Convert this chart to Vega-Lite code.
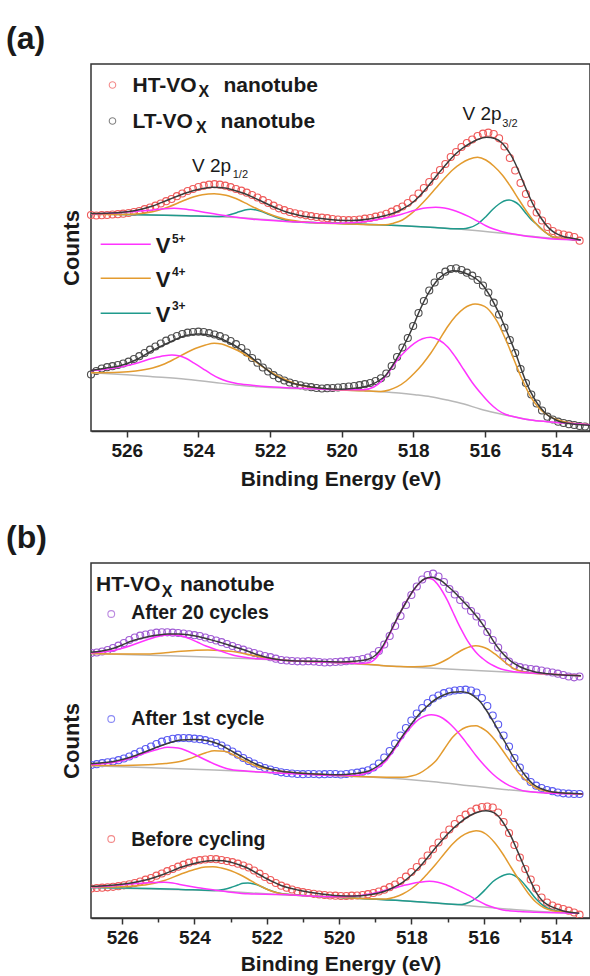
{
"$schema":"https://vega.github.io/schema/vega-lite/v6.json",
"padding":{"left":5,"top":22,"right":0,"bottom":0},
"background":"white",
"spacing":31,
"align":"none",
"config":{
"font":"Liberation Sans",
"view":{"stroke":"#333","strokeWidth":1.5},
"axis":{"grid":false,"labelFont":"Liberation Sans","labelFontSize":19,"labelFontWeight":"bold","labelColor":"#1a1a1a","titleFont":"Liberation Sans","titleFontSize":21,"titleFontWeight":"bold","titleColor":"#1a1a1a","domainColor":"#333","domainWidth":1.5,"tickColor":"#333","tickWidth":1.5,"labelPadding":4,"titlePadding":8},
"axisY":{"titleFontSize":22},
"text":{"font":"Liberation Sans","fontWeight":"bold","align":"left","baseline":"alphabetic","color":"#1a1a1a"},
"title":{"font":"Liberation Sans","fontWeight":"bold","fontSize":32,"color":"#1a1a1a","anchor":"start","frame":"group","baseline":"alphabetic","offset":8}
},
"datasets":{
"ptsA":[
{"e":527.00,"ht":216.0,"lt":56.5},{"e":526.85,"ht":215.5,"lt":60.0},{"e":526.70,"ht":215.8,"lt":62.5},{"e":526.55,"ht":216.0,"lt":63.8},{"e":526.40,"ht":216.5,"lt":64.8},{"e":526.25,"ht":216.8,"lt":66.0},{"e":526.10,"ht":217.3,"lt":67.5},{"e":525.95,"ht":218.0,"lt":69.3},{"e":525.80,"ht":219.0,"lt":72.0},{"e":525.65,"ht":220.0,"lt":74.8},{"e":525.50,"ht":221.8,"lt":78.0},{"e":525.35,"ht":223.5,"lt":81.3},{"e":525.20,"ht":225.3,"lt":84.5},{"e":525.05,"ht":227.5,"lt":87.5},{"e":524.90,"ht":229.8,"lt":90.3},{"e":524.75,"ht":232.0,"lt":92.7},{"e":524.60,"ht":234.8,"lt":95.0},{"e":524.45,"ht":237.5,"lt":97.0},{"e":524.30,"ht":240.0,"lt":98.3},{"e":524.15,"ht":242.0,"lt":99.0},{"e":524.00,"ht":244.0,"lt":99.3},{"e":523.85,"ht":245.3,"lt":99.0},{"e":523.70,"ht":246.3,"lt":97.8},{"e":523.55,"ht":246.8,"lt":96.5},{"e":523.40,"ht":246.3,"lt":94.8},{"e":523.25,"ht":245.3,"lt":92.7},{"e":523.10,"ht":243.8,"lt":90.0},{"e":522.95,"ht":242.0,"lt":86.8},{"e":522.80,"ht":240.3,"lt":83.0},{"e":522.65,"ht":238.3,"lt":78.5},{"e":522.50,"ht":236.0,"lt":73.0},{"e":522.35,"ht":233.5,"lt":68.3},{"e":522.20,"ht":230.8,"lt":63.5},{"e":522.05,"ht":228.0,"lt":59.5},{"e":521.90,"ht":225.3,"lt":55.8},{"e":521.75,"ht":222.7,"lt":52.7},{"e":521.60,"ht":220.8,"lt":50.5},{"e":521.45,"ht":219.0,"lt":48.5},{"e":521.30,"ht":217.7,"lt":47.0},{"e":521.15,"ht":216.7,"lt":45.7},{"e":521.00,"ht":215.7,"lt":44.5},{"e":520.85,"ht":214.8,"lt":43.8},{"e":520.70,"ht":214.0,"lt":43.0},{"e":520.55,"ht":213.3,"lt":42.5},{"e":520.40,"ht":212.8,"lt":42.8},{"e":520.25,"ht":212.0,"lt":43.0},{"e":520.10,"ht":211.5,"lt":43.5},{"e":519.95,"ht":211.0,"lt":44.0},{"e":519.80,"ht":210.8,"lt":44.5},{"e":519.65,"ht":211.0,"lt":45.0},{"e":519.50,"ht":211.5,"lt":45.8},{"e":519.35,"ht":212.3,"lt":46.8},{"e":519.20,"ht":213.0,"lt":48.0},{"e":519.05,"ht":214.3,"lt":50.0},{"e":518.90,"ht":215.5,"lt":52.7},{"e":518.75,"ht":217.2,"lt":57.5},{"e":518.60,"ht":219.3,"lt":65.0},{"e":518.45,"ht":221.8,"lt":74.0},{"e":518.30,"ht":224.5,"lt":83.5},{"e":518.15,"ht":228.0,"lt":93.0},{"e":518.00,"ht":232.5,"lt":105.0},{"e":517.85,"ht":237.5,"lt":118.0},{"e":517.70,"ht":243.0,"lt":130.0},{"e":517.55,"ht":249.0,"lt":140.5},{"e":517.40,"ht":255.0,"lt":148.5},{"e":517.25,"ht":261.0,"lt":155.0},{"e":517.10,"ht":267.0,"lt":159.3},{"e":516.95,"ht":274.0,"lt":162.0},{"e":516.80,"ht":279.0,"lt":162.7},{"e":516.65,"ht":284.0,"lt":161.0},{"e":516.50,"ht":288.0,"lt":158.3},{"e":516.35,"ht":291.5,"lt":155.3},{"e":516.20,"ht":295.0,"lt":151.0},{"e":516.05,"ht":297.3,"lt":145.5},{"e":515.90,"ht":298.3,"lt":138.5},{"e":515.75,"ht":297.0,"lt":128.3},{"e":515.60,"ht":292.7,"lt":116.5},{"e":515.45,"ht":284.5,"lt":103.5},{"e":515.30,"ht":273.0,"lt":91.0},{"e":515.15,"ht":260.5,"lt":78.0},{"e":515.00,"ht":248.0,"lt":62.0},{"e":514.85,"ht":237.0,"lt":48.0},{"e":514.70,"ht":227.5,"lt":36.5},{"e":514.55,"ht":218.5,"lt":27.5},{"e":514.40,"ht":210.5,"lt":20.5},{"e":514.25,"ht":204.0,"lt":14.3},{"e":514.10,"ht":200.0,"lt":11.5},{"e":513.95,"ht":197.5,"lt":9.3},{"e":513.80,"ht":196.5,"lt":8.0},{"e":513.65,"ht":195.3,"lt":6.8},{"e":513.50,"ht":194.0,"lt":6.0},{"e":513.35,"ht":190.3,"lt":5.0},{"e":513.20,"lt":4.5}
],
"ptsB":[
{"e":527.00,"c20":264.7,"c1":152.3,"bc":29.0},{"e":526.85,"c20":265.0,"c1":153.0,"bc":29.5},{"e":526.70,"c20":265.5,"c1":153.8,"bc":30.0},{"e":526.55,"c20":266.5,"c1":154.8,"bc":30.3},{"e":526.40,"c20":268.0,"c1":155.7,"bc":30.7},{"e":526.25,"c20":270.0,"c1":156.5,"bc":31.2},{"e":526.10,"c20":272.3,"c1":157.8,"bc":31.8},{"e":525.95,"c20":275.0,"c1":159.5,"bc":32.7},{"e":525.80,"c20":278.0,"c1":161.5,"bc":33.7},{"e":525.65,"c20":280.5,"c1":163.8,"bc":35.0},{"e":525.50,"c20":282.3,"c1":166.5,"bc":36.5},{"e":525.35,"c20":283.5,"c1":169.0,"bc":38.3},{"e":525.20,"c20":284.5,"c1":171.5,"bc":40.0},{"e":525.05,"c20":285.3,"c1":174.0,"bc":42.3},{"e":524.90,"c20":285.7,"c1":176.3,"bc":44.5},{"e":524.75,"c20":285.7,"c1":178.0,"bc":46.8},{"e":524.60,"c20":285.3,"c1":179.2,"bc":49.0},{"e":524.45,"c20":285.0,"c1":179.8,"bc":51.3},{"e":524.30,"c20":284.5,"c1":180.0,"bc":53.3},{"e":524.15,"c20":283.7,"c1":179.8,"bc":55.3},{"e":524.00,"c20":282.8,"c1":179.3,"bc":56.8},{"e":523.85,"c20":282.0,"c1":178.8,"bc":57.8},{"e":523.70,"c20":280.5,"c1":177.8,"bc":58.5},{"e":523.55,"c20":279.0,"c1":176.5,"bc":59.0},{"e":523.40,"c20":277.5,"c1":175.0,"bc":58.8},{"e":523.25,"c20":275.8,"c1":172.5,"bc":58.0},{"e":523.10,"c20":274.0,"c1":169.5,"bc":57.0},{"e":522.95,"c20":272.0,"c1":166.5,"bc":55.8},{"e":522.80,"c20":270.0,"c1":163.3,"bc":54.3},{"e":522.65,"c20":268.3,"c1":160.0,"bc":52.5},{"e":522.50,"c20":266.5,"c1":157.0,"bc":50.5},{"e":522.35,"c20":265.0,"c1":154.5,"bc":47.5},{"e":522.20,"c20":263.5,"c1":152.0,"bc":44.3},{"e":522.05,"c20":262.0,"c1":150.0,"bc":41.0},{"e":521.90,"c20":260.8,"c1":148.5,"bc":38.0},{"e":521.75,"c20":259.3,"c1":147.0,"bc":35.0},{"e":521.60,"c20":258.0,"c1":145.7,"bc":32.3},{"e":521.45,"c20":257.5,"c1":145.0,"bc":30.3},{"e":521.30,"c20":257.0,"c1":144.5,"bc":28.5},{"e":521.15,"c20":256.7,"c1":144.0,"bc":26.8},{"e":521.00,"c20":256.5,"c1":143.8,"bc":25.8},{"e":520.85,"c20":256.8,"c1":144.0,"bc":25.0},{"e":520.70,"c20":256.5,"c1":144.0,"bc":24.2},{"e":520.55,"c20":256.0,"c1":143.7,"bc":23.5},{"e":520.40,"c20":255.5,"c1":143.8,"bc":23.0},{"e":520.25,"c20":255.7,"c1":144.0,"bc":22.5},{"e":520.10,"c20":256.0,"c1":144.0,"bc":22.3},{"e":519.95,"c20":256.3,"c1":143.5,"bc":22.0},{"e":519.80,"c20":256.8,"c1":144.0,"bc":22.0},{"e":519.65,"c20":257.3,"c1":144.7,"bc":22.3},{"e":519.50,"c20":258.0,"c1":145.3,"bc":22.5},{"e":519.35,"c20":259.0,"c1":146.3,"bc":23.0},{"e":519.20,"c20":260.5,"c1":147.7,"bc":23.8},{"e":519.05,"c20":263.0,"c1":150.5,"bc":25.0},{"e":518.90,"c20":267.0,"c1":154.5,"bc":26.5},{"e":518.75,"c20":273.5,"c1":160.5,"bc":28.3},{"e":518.60,"c20":282.0,"c1":167.0,"bc":30.8},{"e":518.45,"c20":292.0,"c1":174.5,"bc":33.5},{"e":518.30,"c20":302.0,"c1":182.5,"bc":37.0},{"e":518.15,"c20":313.0,"c1":190.0,"bc":41.3},{"e":518.00,"c20":323.0,"c1":197.5,"bc":46.0},{"e":517.85,"c20":331.5,"c1":204.5,"bc":51.0},{"e":517.70,"c20":338.5,"c1":210.0,"bc":56.5},{"e":517.55,"c20":343.0,"c1":215.0,"bc":62.5},{"e":517.40,"c20":344.3,"c1":219.5,"bc":68.8},{"e":517.25,"c20":341.5,"c1":222.5,"bc":75.5},{"e":517.10,"c20":336.0,"c1":224.8,"bc":82.5},{"e":516.95,"c20":329.0,"c1":226.5,"bc":88.5},{"e":516.80,"c20":323.5,"c1":227.5,"bc":94.0},{"e":516.65,"c20":318.0,"c1":228.0,"bc":99.0},{"e":516.50,"c20":312.5,"c1":228.3,"bc":103.3},{"e":516.35,"c20":307.0,"c1":227.5,"bc":106.5},{"e":516.20,"c20":301.5,"c1":225.5,"bc":109.3},{"e":516.05,"c20":294.8,"c1":220.0,"bc":111.0},{"e":515.90,"c20":286.0,"c1":212.0,"bc":111.5},{"e":515.75,"c20":278.0,"c1":202.5,"bc":110.5},{"e":515.60,"c20":270.5,"c1":193.5,"bc":105.5},{"e":515.45,"c20":262.5,"c1":182.5,"bc":96.0},{"e":515.30,"c20":256.5,"c1":171.5,"bc":85.0},{"e":515.15,"c20":252.5,"c1":160.0,"bc":73.0},{"e":515.00,"c20":250.8,"c1":150.5,"bc":60.5},{"e":514.85,"c20":249.7,"c1":141.5,"bc":49.0},{"e":514.70,"c20":249.0,"c1":136.0,"bc":38.5},{"e":514.55,"c20":248.3,"c1":132.3,"bc":29.5},{"e":514.40,"c20":247.5,"c1":130.0,"bc":20.5},{"e":514.25,"c20":246.5,"c1":128.0,"bc":15.5},{"e":514.10,"c20":245.5,"c1":126.8,"bc":12.5},{"e":513.95,"c20":244.3,"c1":125.5,"bc":10.3},{"e":513.80,"c20":243.0,"c1":124.7,"bc":9.0},{"e":513.65,"c20":241.5,"c1":124.3,"bc":7.3},{"e":513.50,"c20":240.7,"c1":124.0,"bc":5.5},{"e":513.35,"c20":241.5,"c1":124.0,"bc":3.3}
],
"linA":[
{"s":"HT","c":"bg","e":527,"y":217},{"s":"HT","c":"bg","e":525.3,"y":216},{"s":"HT","c":"bg","e":523.42,"y":214.3},{"s":"HT","c":"bg","e":522.5,"y":212.5},{"s":"HT","c":"bg","e":521.56,"y":209.8},{"s":"HT","c":"bg","e":520.6,"y":208.2},{"s":"HT","c":"bg","e":520,"y":207.5},{"s":"HT","c":"bg","e":519.2,"y":206.5},{"s":"HT","c":"bg","e":518.3,"y":205.3},{"s":"HT","c":"bg","e":517.4,"y":203.5},{"s":"HT","c":"bg","e":516.44,"y":201},{"s":"HT","c":"bg","e":515.5,"y":197.8},{"s":"HT","c":"bg","e":514.58,"y":194.3},{"s":"HT","c":"bg","e":513.9,"y":192.2},{"s":"HT","c":"bg","e":513.32,"y":191},
{"s":"LT","c":"bg","e":527,"y":58.3},{"s":"LT","c":"bg","e":526,"y":56.2},{"s":"LT","c":"bg","e":525.28,"y":54.3},{"s":"LT","c":"bg","e":524.35,"y":51.7},{"s":"LT","c":"bg","e":523.6,"y":48.8},{"s":"LT","c":"bg","e":522.96,"y":46},{"s":"LT","c":"bg","e":522.2,"y":44},{"s":"LT","c":"bg","e":521.56,"y":42.7},{"s":"LT","c":"bg","e":520.8,"y":41.8},{"s":"LT","c":"bg","e":520.02,"y":41},{"s":"LT","c":"bg","e":519.4,"y":40.3},{"s":"LT","c":"bg","e":518.9,"y":39.3},{"s":"LT","c":"bg","e":518.4,"y":38},{"s":"LT","c":"bg","e":517.95,"y":36.3},{"s":"LT","c":"bg","e":517.51,"y":34.3},{"s":"LT","c":"bg","e":517.05,"y":31},{"s":"LT","c":"bg","e":516.58,"y":27},{"s":"LT","c":"bg","e":516.11,"y":21.7},{"s":"LT","c":"bg","e":515.65,"y":17.8},{"s":"LT","c":"bg","e":515.18,"y":14.3},{"s":"LT","c":"bg","e":514.72,"y":11},{"s":"LT","c":"bg","e":514.25,"y":9.3},{"s":"LT","c":"bg","e":513.78,"y":8},{"s":"LT","c":"bg","e":513.32,"y":7},{"s":"LT","c":"bg","e":513.04,"y":6.3},
{"s":"HT","c":"V3","e":527,"y":217},{"s":"HT","c":"V3","e":525.3,"y":216},{"s":"HT","c":"V3","e":524.35,"y":215.3},{"s":"HT","c":"V3","e":523.42,"y":214.5},{"s":"HT","c":"V3","e":523.2,"y":215.5},{"s":"HT","c":"V3","e":523.05,"y":217},{"s":"HT","c":"V3","e":522.86,"y":219.2},{"s":"HT","c":"V3","e":522.7,"y":221},{"s":"HT","c":"V3","e":522.54,"y":221.7},{"s":"HT","c":"V3","e":522.38,"y":221},{"s":"HT","c":"V3","e":522.21,"y":219.3},{"s":"HT","c":"V3","e":522.02,"y":216.5},{"s":"HT","c":"V3","e":521.75,"y":212.7},{"s":"HT","c":"V3","e":521.56,"y":210.8},{"s":"HT","c":"V3","e":521.37,"y":209.6},{"s":"HT","c":"V3","e":520.6,"y":208.2},{"s":"HT","c":"V3","e":520,"y":207.5},{"s":"HT","c":"V3","e":519.2,"y":206.5},{"s":"HT","c":"V3","e":518.3,"y":205.3},{"s":"HT","c":"V3","e":517.4,"y":203.5},{"s":"HT","c":"V3","e":516.9,"y":202.3},{"s":"HT","c":"V3","e":516.6,"y":202.2},{"s":"HT","c":"V3","e":516.44,"y":203.2},{"s":"HT","c":"V3","e":516.2,"y":207},{"s":"HT","c":"V3","e":515.97,"y":214.3},{"s":"HT","c":"V3","e":515.78,"y":221.5},{"s":"HT","c":"V3","e":515.6,"y":227},{"s":"HT","c":"V3","e":515.46,"y":230},{"s":"HT","c":"V3","e":515.32,"y":231},{"s":"HT","c":"V3","e":515.18,"y":229.5},{"s":"HT","c":"V3","e":515.04,"y":226},{"s":"HT","c":"V3","e":514.88,"y":219},{"s":"HT","c":"V3","e":514.73,"y":212.5},{"s":"HT","c":"V3","e":514.58,"y":207.7},{"s":"HT","c":"V3","e":514.35,"y":200},{"s":"HT","c":"V3","e":514.11,"y":194.3},{"s":"HT","c":"V3","e":513.8,"y":192},{"s":"HT","c":"V3","e":513.32,"y":191},
{"s":"HT","c":"V4","e":527,"y":216.8},{"s":"HT","c":"V4","e":526.2,"y":216.5},{"s":"HT","c":"V4","e":525.75,"y":217},{"s":"HT","c":"V4","e":525.28,"y":219.3},{"s":"HT","c":"V4","e":525.05,"y":221.5},{"s":"HT","c":"V4","e":524.82,"y":224.3},{"s":"HT","c":"V4","e":524.58,"y":227.8},{"s":"HT","c":"V4","e":524.35,"y":231.3},{"s":"HT","c":"V4","e":524.12,"y":234.2},{"s":"HT","c":"V4","e":523.89,"y":236.3},{"s":"HT","c":"V4","e":523.56,"y":237.3},{"s":"HT","c":"V4","e":523.23,"y":235.7},{"s":"HT","c":"V4","e":523.05,"y":233.7},{"s":"HT","c":"V4","e":522.86,"y":231},{"s":"HT","c":"V4","e":522.68,"y":227.8},{"s":"HT","c":"V4","e":522.49,"y":224.3},{"s":"HT","c":"V4","e":522.25,"y":220.5},{"s":"HT","c":"V4","e":522.02,"y":217},{"s":"HT","c":"V4","e":521.78,"y":214},{"s":"HT","c":"V4","e":521.56,"y":211.7},{"s":"HT","c":"V4","e":521.09,"y":209.3},{"s":"HT","c":"V4","e":520.6,"y":208},{"s":"HT","c":"V4","e":520,"y":207.3},{"s":"HT","c":"V4","e":519.23,"y":206.3},{"s":"HT","c":"V4","e":518.77,"y":206.2},{"s":"HT","c":"V4","e":518.55,"y":207.8},{"s":"HT","c":"V4","e":518.3,"y":211},{"s":"HT","c":"V4","e":518.07,"y":216.8},{"s":"HT","c":"V4","e":517.84,"y":224.3},{"s":"HT","c":"V4","e":517.6,"y":233.3},{"s":"HT","c":"V4","e":517.37,"y":242.7},{"s":"HT","c":"V4","e":517.13,"y":252.5},{"s":"HT","c":"V4","e":516.9,"y":261},{"s":"HT","c":"V4","e":516.67,"y":267.3},{"s":"HT","c":"V4","e":516.44,"y":271.7},{"s":"HT","c":"V4","e":516.2,"y":273.7},{"s":"HT","c":"V4","e":515.97,"y":271},{"s":"HT","c":"V4","e":515.75,"y":265},{"s":"HT","c":"V4","e":515.51,"y":256},{"s":"HT","c":"V4","e":515.27,"y":244},{"s":"HT","c":"V4","e":515.04,"y":231},{"s":"HT","c":"V4","e":514.81,"y":218.5},{"s":"HT","c":"V4","e":514.58,"y":207.7},{"s":"HT","c":"V4","e":514.35,"y":199.8},{"s":"HT","c":"V4","e":514.11,"y":194.3},{"s":"HT","c":"V4","e":513.87,"y":192.5},{"s":"HT","c":"V4","e":513.64,"y":191.7},{"s":"HT","c":"V4","e":513.32,"y":191},
{"s":"LT","c":"V4","e":527,"y":58.3},{"s":"LT","c":"V4","e":526.21,"y":58.8},{"s":"LT","c":"V4","e":525.75,"y":60},{"s":"LT","c":"V4","e":525.28,"y":63},{"s":"LT","c":"V4","e":524.95,"y":67},{"s":"LT","c":"V4","e":524.63,"y":72.7},{"s":"LT","c":"V4","e":524.35,"y":78},{"s":"LT","c":"V4","e":524.07,"y":82.7},{"s":"LT","c":"V4","e":523.8,"y":86},{"s":"LT","c":"V4","e":523.56,"y":87.7},{"s":"LT","c":"V4","e":523.35,"y":87},{"s":"LT","c":"V4","e":523.14,"y":84.3},{"s":"LT","c":"V4","e":522.9,"y":80.5},{"s":"LT","c":"V4","e":522.68,"y":76},{"s":"LT","c":"V4","e":522.45,"y":70.5},{"s":"LT","c":"V4","e":522.21,"y":64.3},{"s":"LT","c":"V4","e":521.98,"y":59},{"s":"LT","c":"V4","e":521.75,"y":54.3},{"s":"LT","c":"V4","e":521.5,"y":50.3},{"s":"LT","c":"V4","e":521.28,"y":47},{"s":"LT","c":"V4","e":520.63,"y":42.7},{"s":"LT","c":"V4","e":520.02,"y":41},{"s":"LT","c":"V4","e":519.4,"y":40.3},{"s":"LT","c":"V4","e":518.9,"y":39.5},{"s":"LT","c":"V4","e":518.67,"y":41},{"s":"LT","c":"V4","e":518.44,"y":44.3},{"s":"LT","c":"V4","e":518.2,"y":50},{"s":"LT","c":"V4","e":517.97,"y":57.7},{"s":"LT","c":"V4","e":517.74,"y":66.8},{"s":"LT","c":"V4","e":517.51,"y":77.7},{"s":"LT","c":"V4","e":517.28,"y":90.5},{"s":"LT","c":"V4","e":517.04,"y":104.3},{"s":"LT","c":"V4","e":516.81,"y":115},{"s":"LT","c":"V4","e":516.58,"y":122.7},{"s":"LT","c":"V4","e":516.42,"y":125.8},{"s":"LT","c":"V4","e":516.27,"y":127},{"s":"LT","c":"V4","e":516.1,"y":126},{"s":"LT","c":"V4","e":515.93,"y":122.7},{"s":"LT","c":"V4","e":515.79,"y":117},{"s":"LT","c":"V4","e":515.65,"y":109.3},{"s":"LT","c":"V4","e":515.51,"y":99},{"s":"LT","c":"V4","e":515.37,"y":87.7},{"s":"LT","c":"V4","e":515.18,"y":71},{"s":"LT","c":"V4","e":514.99,"y":54.3},{"s":"LT","c":"V4","e":514.85,"y":43.5},{"s":"LT","c":"V4","e":514.72,"y":34.3},{"s":"LT","c":"V4","e":514.5,"y":23.5},{"s":"LT","c":"V4","e":514.25,"y":16},{"s":"LT","c":"V4","e":514,"y":11.5},{"s":"LT","c":"V4","e":513.78,"y":9.3},{"s":"LT","c":"V4","e":513.32,"y":7},{"s":"LT","c":"V4","e":513.04,"y":6.3},
{"s":"HT","c":"V5","e":527,"y":217.2},{"s":"HT","c":"V5","e":526.6,"y":217.6},{"s":"HT","c":"V5","e":526.21,"y":218.3},{"s":"HT","c":"V5","e":525.75,"y":219.6},{"s":"HT","c":"V5","e":525.28,"y":221},{"s":"HT","c":"V5","e":524.95,"y":222.2},{"s":"HT","c":"V5","e":524.68,"y":222.7},{"s":"HT","c":"V5","e":524.4,"y":222},{"s":"HT","c":"V5","e":524.07,"y":220.3},{"s":"HT","c":"V5","e":523.75,"y":218.2},{"s":"HT","c":"V5","e":523.42,"y":216.2},{"s":"HT","c":"V5","e":523,"y":214},{"s":"HT","c":"V5","e":522.49,"y":211.8},{"s":"HT","c":"V5","e":521.56,"y":209.5},{"s":"HT","c":"V5","e":520.6,"y":208.3},{"s":"HT","c":"V5","e":520,"y":207.7},{"s":"HT","c":"V5","e":519.7,"y":208.3},{"s":"HT","c":"V5","e":519.23,"y":210},{"s":"HT","c":"V5","e":518.77,"y":213},{"s":"HT","c":"V5","e":518.3,"y":217},{"s":"HT","c":"V5","e":518.05,"y":219.8},{"s":"HT","c":"V5","e":517.84,"y":221.8},{"s":"HT","c":"V5","e":517.6,"y":223.2},{"s":"HT","c":"V5","e":517.37,"y":223.7},{"s":"HT","c":"V5","e":517.13,"y":223},{"s":"HT","c":"V5","e":516.9,"y":221},{"s":"HT","c":"V5","e":516.67,"y":218},{"s":"HT","c":"V5","e":516.44,"y":214.3},{"s":"HT","c":"V5","e":516.2,"y":209.8},{"s":"HT","c":"V5","e":515.97,"y":205.3},{"s":"HT","c":"V5","e":515.75,"y":202},{"s":"HT","c":"V5","e":515.51,"y":199.3},{"s":"HT","c":"V5","e":515.04,"y":196},{"s":"HT","c":"V5","e":514.58,"y":193.7},{"s":"HT","c":"V5","e":514.11,"y":192},{"s":"HT","c":"V5","e":513.32,"y":191},
{"s":"LT","c":"V5","e":527,"y":60.3},{"s":"LT","c":"V5","e":526.6,"y":61.8},{"s":"LT","c":"V5","e":526.21,"y":63.7},{"s":"LT","c":"V5","e":525.75,"y":67.5},{"s":"LT","c":"V5","e":525.28,"y":72.7},{"s":"LT","c":"V5","e":524.95,"y":75.3},{"s":"LT","c":"V5","e":524.74,"y":76},{"s":"LT","c":"V5","e":524.55,"y":75.2},{"s":"LT","c":"V5","e":524.35,"y":72.7},{"s":"LT","c":"V5","e":524.12,"y":67.8},{"s":"LT","c":"V5","e":523.89,"y":62.7},{"s":"LT","c":"V5","e":523.65,"y":57.2},{"s":"LT","c":"V5","e":523.42,"y":52.7},{"s":"LT","c":"V5","e":523.2,"y":49.8},{"s":"LT","c":"V5","e":522.96,"y":47.7},{"s":"LT","c":"V5","e":522.5,"y":45.8},{"s":"LT","c":"V5","e":522.02,"y":44.3},{"s":"LT","c":"V5","e":521.09,"y":42.7},{"s":"LT","c":"V5","e":520.02,"y":41.2},{"s":"LT","c":"V5","e":519.4,"y":41.2},{"s":"LT","c":"V5","e":519.1,"y":44},{"s":"LT","c":"V5","e":518.9,"y":49.3},{"s":"LT","c":"V5","e":518.67,"y":59.5},{"s":"LT","c":"V5","e":518.44,"y":71},{"s":"LT","c":"V5","e":518.2,"y":80.5},{"s":"LT","c":"V5","e":517.97,"y":87.7},{"s":"LT","c":"V5","e":517.74,"y":92.2},{"s":"LT","c":"V5","e":517.51,"y":93.7},{"s":"LT","c":"V5","e":517.28,"y":91},{"s":"LT","c":"V5","e":517.04,"y":84.3},{"s":"LT","c":"V5","e":516.81,"y":73.5},{"s":"LT","c":"V5","e":516.58,"y":61},{"s":"LT","c":"V5","e":516.35,"y":48.5},{"s":"LT","c":"V5","e":516.11,"y":37.7},{"s":"LT","c":"V5","e":515.88,"y":28.5},{"s":"LT","c":"V5","e":515.64,"y":21},{"s":"LT","c":"V5","e":515.41,"y":16.5},{"s":"LT","c":"V5","e":515.18,"y":14.3},{"s":"LT","c":"V5","e":514.72,"y":11},{"s":"LT","c":"V5","e":514.25,"y":9.3},{"s":"LT","c":"V5","e":513.32,"y":7},{"s":"LT","c":"V5","e":513.04,"y":6.3},
{"s":"HT","c":"fit","e":527,"y":217.5},{"s":"HT","c":"fit","e":526.6,"y":217.8},{"s":"HT","c":"fit","e":526.2,"y":218.5},{"s":"HT","c":"fit","e":525.75,"y":220.5},{"s":"HT","c":"fit","e":525.28,"y":225},{"s":"HT","c":"fit","e":524.82,"y":231.5},{"s":"HT","c":"fit","e":524.35,"y":238},{"s":"HT","c":"fit","e":523.95,"y":242},{"s":"HT","c":"fit","e":523.61,"y":243.7},{"s":"HT","c":"fit","e":523.25,"y":243},{"s":"HT","c":"fit","e":522.96,"y":240.3},{"s":"HT","c":"fit","e":522.72,"y":237.5},{"s":"HT","c":"fit","e":522.49,"y":234},{"s":"HT","c":"fit","e":522.25,"y":230},{"s":"HT","c":"fit","e":522.02,"y":226},{"s":"HT","c":"fit","e":521.78,"y":222.3},{"s":"HT","c":"fit","e":521.56,"y":219.3},{"s":"HT","c":"fit","e":521.3,"y":216.8},{"s":"HT","c":"fit","e":521.09,"y":215},{"s":"HT","c":"fit","e":520.63,"y":212.8},{"s":"HT","c":"fit","e":520.1,"y":210.8},{"s":"HT","c":"fit","e":519.7,"y":210.5},{"s":"HT","c":"fit","e":519.23,"y":212},{"s":"HT","c":"fit","e":518.77,"y":215.5},{"s":"HT","c":"fit","e":518.5,"y":218.5},{"s":"HT","c":"fit","e":518.3,"y":222},{"s":"HT","c":"fit","e":518.05,"y":227.5},{"s":"HT","c":"fit","e":517.84,"y":234.3},{"s":"HT","c":"fit","e":517.6,"y":244},{"s":"HT","c":"fit","e":517.37,"y":254.3},{"s":"HT","c":"fit","e":517.13,"y":264.5},{"s":"HT","c":"fit","e":516.9,"y":274},{"s":"HT","c":"fit","e":516.67,"y":281.5},{"s":"HT","c":"fit","e":516.44,"y":287},{"s":"HT","c":"fit","e":516.2,"y":291.5},{"s":"HT","c":"fit","e":515.95,"y":293.7},{"s":"HT","c":"fit","e":515.72,"y":292.5},{"s":"HT","c":"fit","e":515.51,"y":287.7},{"s":"HT","c":"fit","e":515.37,"y":281.5},{"s":"HT","c":"fit","e":515.23,"y":273.5},{"s":"HT","c":"fit","e":515.09,"y":263},{"s":"HT","c":"fit","e":514.95,"y":251},{"s":"HT","c":"fit","e":514.81,"y":239},{"s":"HT","c":"fit","e":514.67,"y":228},{"s":"HT","c":"fit","e":514.53,"y":218.5},{"s":"HT","c":"fit","e":514.39,"y":211},{"s":"HT","c":"fit","e":514.25,"y":204.5},{"s":"HT","c":"fit","e":514.11,"y":199.8},{"s":"HT","c":"fit","e":513.97,"y":196.8},{"s":"HT","c":"fit","e":513.83,"y":194.8},{"s":"HT","c":"fit","e":513.6,"y":193},{"s":"HT","c":"fit","e":513.32,"y":191},
{"s":"LT","c":"fit","e":527,"y":60.5},{"s":"LT","c":"fit","e":526.6,"y":62.8},{"s":"LT","c":"fit","e":526.21,"y":65},{"s":"LT","c":"fit","e":525.75,"y":71},{"s":"LT","c":"fit","e":525.28,"y":80.5},{"s":"LT","c":"fit","e":524.82,"y":88.5},{"s":"LT","c":"fit","e":524.35,"y":95.5},{"s":"LT","c":"fit","e":524,"y":97},{"s":"LT","c":"fit","e":523.7,"y":96},{"s":"LT","c":"fit","e":523.42,"y":93},{"s":"LT","c":"fit","e":523.15,"y":88.5},{"s":"LT","c":"fit","e":522.86,"y":82.7},{"s":"LT","c":"fit","e":522.68,"y":78},{"s":"LT","c":"fit","e":522.49,"y":72.7},{"s":"LT","c":"fit","e":522.2,"y":64.5},{"s":"LT","c":"fit","e":521.93,"y":57},{"s":"LT","c":"fit","e":521.65,"y":51.5},{"s":"LT","c":"fit","e":521.37,"y":47.8},{"s":"LT","c":"fit","e":521,"y":45},{"s":"LT","c":"fit","e":520.63,"y":43},{"s":"LT","c":"fit","e":520.02,"y":41.8},{"s":"LT","c":"fit","e":519.7,"y":42.5},{"s":"LT","c":"fit","e":519.23,"y":45.5},{"s":"LT","c":"fit","e":518.905,"y":51.5},{"s":"LT","c":"fit","e":518.77,"y":55.5},{"s":"LT","c":"fit","e":518.63,"y":62.5},{"s":"LT","c":"fit","e":518.49,"y":70.5},{"s":"LT","c":"fit","e":518.35,"y":79.3},{"s":"LT","c":"fit","e":518.21,"y":89},{"s":"LT","c":"fit","e":518.07,"y":99.3},{"s":"LT","c":"fit","e":517.93,"y":111},{"s":"LT","c":"fit","e":517.79,"y":122.7},{"s":"LT","c":"fit","e":517.65,"y":133},{"s":"LT","c":"fit","e":517.51,"y":141.7},{"s":"LT","c":"fit","e":517.37,"y":148.8},{"s":"LT","c":"fit","e":517.23,"y":154.3},{"s":"LT","c":"fit","e":517.07,"y":158.2},{"s":"LT","c":"fit","e":516.9,"y":160.3},{"s":"LT","c":"fit","e":516.74,"y":160},{"s":"LT","c":"fit","e":516.58,"y":158.3},{"s":"LT","c":"fit","e":516.44,"y":156.3},{"s":"LT","c":"fit","e":516.3,"y":153.7},{"s":"LT","c":"fit","e":516.16,"y":149.8},{"s":"LT","c":"fit","e":516.02,"y":144.3},{"s":"LT","c":"fit","e":515.88,"y":136.7},{"s":"LT","c":"fit","e":515.74,"y":127.7},{"s":"LT","c":"fit","e":515.6,"y":117.5},{"s":"LT","c":"fit","e":515.46,"y":106},{"s":"LT","c":"fit","e":515.32,"y":94},{"s":"LT","c":"fit","e":515.18,"y":81.7},{"s":"LT","c":"fit","e":515.08,"y":72},{"s":"LT","c":"fit","e":514.99,"y":62.7},{"s":"LT","c":"fit","e":514.9,"y":54},{"s":"LT","c":"fit","e":514.81,"y":46},{"s":"LT","c":"fit","e":514.62,"y":32.7},{"s":"LT","c":"fit","e":514.43,"y":22.7},{"s":"LT","c":"fit","e":514.25,"y":16},{"s":"LT","c":"fit","e":514.1,"y":12.8},{"s":"LT","c":"fit","e":513.97,"y":10.3},{"s":"LT","c":"fit","e":513.69,"y":7.7},{"s":"LT","c":"fit","e":513.32,"y":6.3},{"s":"LT","c":"fit","e":513.04,"y":5.7}
],
"linB":[
{"s":"c20","c":"bg","e":527,"y":264.7},{"s":"c20","c":"bg","e":525,"y":262.5},{"s":"c20","c":"bg","e":523.45,"y":260.7},{"s":"c20","c":"bg","e":521.6,"y":258},{"s":"c20","c":"bg","e":520,"y":255},{"s":"c20","c":"bg","e":518.84,"y":252.5},{"s":"c20","c":"bg","e":517.4,"y":249.8},{"s":"c20","c":"bg","e":516.07,"y":247.3},{"s":"c20","c":"bg","e":514.7,"y":244.8},{"s":"c20","c":"bg","e":513.31,"y":242},
{"s":"c1","c":"bg","e":527,"y":152.3},{"s":"c1","c":"bg","e":525.2,"y":150.2},{"s":"c1","c":"bg","e":523.45,"y":148},{"s":"c1","c":"bg","e":521.7,"y":145.2},{"s":"c1","c":"bg","e":520,"y":142.2},{"s":"c1","c":"bg","e":518.24,"y":139},{"s":"c1","c":"bg","e":517.3,"y":136},{"s":"c1","c":"bg","e":516.4,"y":132.3},{"s":"c1","c":"bg","e":515.5,"y":128.8},{"s":"c1","c":"bg","e":514.55,"y":125.7},{"s":"c1","c":"bg","e":513.9,"y":124.6},{"s":"c1","c":"bg","e":513.26,"y":124},
{"s":"bc","c":"bg","e":527,"y":30.7},{"s":"bc","c":"bg","e":525.2,"y":29},{"s":"bc","c":"bg","e":523.45,"y":27.3},{"s":"bc","c":"bg","e":521.6,"y":23.3},{"s":"bc","c":"bg","e":520,"y":20.7},{"s":"bc","c":"bg","e":518.24,"y":17.3},{"s":"bc","c":"bg","e":516.4,"y":12.3},{"s":"bc","c":"bg","e":514.55,"y":6.7},{"s":"bc","c":"bg","e":513.36,"y":4.7},
{"s":"bc","c":"V3","e":527,"y":30.7},{"s":"bc","c":"V3","e":525.2,"y":29.5},{"s":"bc","c":"V3","e":524.37,"y":28.6},{"s":"bc","c":"V3","e":523.45,"y":27.5},{"s":"bc","c":"V3","e":523.2,"y":28.5},{"s":"bc","c":"V3","e":522.99,"y":30.5},{"s":"bc","c":"V3","e":522.8,"y":33},{"s":"bc","c":"V3","e":522.65,"y":34.8},{"s":"bc","c":"V3","e":522.52,"y":35},{"s":"bc","c":"V3","e":522.35,"y":34},{"s":"bc","c":"V3","e":522.2,"y":32.3},{"s":"bc","c":"V3","e":522.07,"y":30},{"s":"bc","c":"V3","e":521.84,"y":26.8},{"s":"bc","c":"V3","e":521.6,"y":24.5},{"s":"bc","c":"V3","e":521,"y":22.6},{"s":"bc","c":"V3","e":520,"y":20.6},{"s":"bc","c":"V3","e":518.24,"y":17.3},{"s":"bc","c":"V3","e":517.3,"y":15},{"s":"bc","c":"V3","e":516.86,"y":13.8},{"s":"bc","c":"V3","e":516.6,"y":13.5},{"s":"bc","c":"V3","e":516.4,"y":15.7},{"s":"bc","c":"V3","e":516.17,"y":21},{"s":"bc","c":"V3","e":515.94,"y":29},{"s":"bc","c":"V3","e":515.75,"y":36.3},{"s":"bc","c":"V3","e":515.57,"y":40.7},{"s":"bc","c":"V3","e":515.43,"y":43},{"s":"bc","c":"V3","e":515.29,"y":44},{"s":"bc","c":"V3","e":515.15,"y":42.5},{"s":"bc","c":"V3","e":515.01,"y":39},{"s":"bc","c":"V3","e":514.78,"y":29.5},{"s":"bc","c":"V3","e":514.55,"y":19},{"s":"bc","c":"V3","e":514.32,"y":11.5},{"s":"bc","c":"V3","e":514.09,"y":8},{"s":"bc","c":"V3","e":513.7,"y":5.8},{"s":"bc","c":"V3","e":513.36,"y":4.7},
{"s":"c20","c":"V4","e":527,"y":264.7},{"s":"c20","c":"V4","e":526,"y":264},{"s":"c20","c":"V4","e":525.29,"y":264},{"s":"c20","c":"V4","e":524.8,"y":265.3},{"s":"c20","c":"V4","e":524.37,"y":266.7},{"s":"c20","c":"V4","e":523.95,"y":267.7},{"s":"c20","c":"V4","e":523.63,"y":268},{"s":"c20","c":"V4","e":523.3,"y":267.6},{"s":"c20","c":"V4","e":522.99,"y":266.7},{"s":"c20","c":"V4","e":522.65,"y":264.5},{"s":"c20","c":"V4","e":522.34,"y":262.3},{"s":"c20","c":"V4","e":521.95,"y":259.8},{"s":"c20","c":"V4","e":521.6,"y":258},{"s":"c20","c":"V4","e":520.8,"y":256.5},{"s":"c20","c":"V4","e":519.94,"y":255.2},{"s":"c20","c":"V4","e":519.2,"y":253.7},{"s":"c20","c":"V4","e":518.84,"y":252.6},{"s":"c20","c":"V4","e":518.3,"y":251.5},{"s":"c20","c":"V4","e":517.92,"y":251.3},{"s":"c20","c":"V4","e":517.46,"y":252.3},{"s":"c20","c":"V4","e":517.23,"y":254.8},{"s":"c20","c":"V4","e":517,"y":259},{"s":"c20","c":"V4","e":516.77,"y":264.3},{"s":"c20","c":"V4","e":516.54,"y":269},{"s":"c20","c":"V4","e":516.38,"y":271.3},{"s":"c20","c":"V4","e":516.22,"y":272.3},{"s":"c20","c":"V4","e":516.05,"y":271.3},{"s":"c20","c":"V4","e":515.89,"y":269},{"s":"c20","c":"V4","e":515.7,"y":264.3},{"s":"c20","c":"V4","e":515.52,"y":259},{"s":"c20","c":"V4","e":515.33,"y":253.5},{"s":"c20","c":"V4","e":515.15,"y":249},{"s":"c20","c":"V4","e":514.92,"y":246.3},{"s":"c20","c":"V4","e":514.69,"y":245},{"s":"c20","c":"V4","e":514.23,"y":244},{"s":"c20","c":"V4","e":513.31,"y":242.3},
{"s":"c1","c":"V4","e":527,"y":152.4},{"s":"c1","c":"V4","e":526.2,"y":152.5},{"s":"c1","c":"V4","e":525.29,"y":153.3},{"s":"c1","c":"V4","e":524.8,"y":154.5},{"s":"c1","c":"V4","e":524.37,"y":156.7},{"s":"c1","c":"V4","e":524.14,"y":159.2},{"s":"c1","c":"V4","e":523.91,"y":162.3},{"s":"c1","c":"V4","e":523.68,"y":165.3},{"s":"c1","c":"V4","e":523.45,"y":167.3},{"s":"c1","c":"V4","e":523.17,"y":166.7},{"s":"c1","c":"V4","e":522.94,"y":163.5},{"s":"c1","c":"V4","e":522.71,"y":159},{"s":"c1","c":"V4","e":522.48,"y":155},{"s":"c1","c":"V4","e":522.25,"y":151.3},{"s":"c1","c":"V4","e":521.9,"y":148.5},{"s":"c1","c":"V4","e":521.6,"y":146.7},{"s":"c1","c":"V4","e":520.68,"y":144},{"s":"c1","c":"V4","e":520,"y":142.5},{"s":"c1","c":"V4","e":519.2,"y":141.3},{"s":"c1","c":"V4","e":518.24,"y":140.7},{"s":"c1","c":"V4","e":518,"y":142},{"s":"c1","c":"V4","e":517.78,"y":144.7},{"s":"c1","c":"V4","e":517.55,"y":150},{"s":"c1","c":"V4","e":517.32,"y":157.3},{"s":"c1","c":"V4","e":517.09,"y":169},{"s":"c1","c":"V4","e":516.86,"y":180.7},{"s":"c1","c":"V4","e":516.67,"y":187},{"s":"c1","c":"V4","e":516.49,"y":190.7},{"s":"c1","c":"V4","e":516.35,"y":192},{"s":"c1","c":"V4","e":516.21,"y":192.3},{"s":"c1","c":"V4","e":516.08,"y":190.5},{"s":"c1","c":"V4","e":515.94,"y":187.3},{"s":"c1","c":"V4","e":515.7,"y":178.5},{"s":"c1","c":"V4","e":515.47,"y":167.3},{"s":"c1","c":"V4","e":515.24,"y":155.3},{"s":"c1","c":"V4","e":515.01,"y":144},{"s":"c1","c":"V4","e":514.78,"y":136},{"s":"c1","c":"V4","e":514.55,"y":130},{"s":"c1","c":"V4","e":514.32,"y":127.3},{"s":"c1","c":"V4","e":514.09,"y":125.7},{"s":"c1","c":"V4","e":513.26,"y":124},
{"s":"bc","c":"V4","e":527,"y":30.8},{"s":"bc","c":"V4","e":526.2,"y":31},{"s":"bc","c":"V4","e":525.75,"y":31.8},{"s":"bc","c":"V4","e":525.29,"y":33.5},{"s":"bc","c":"V4","e":524.83,"y":37.5},{"s":"bc","c":"V4","e":524.37,"y":44},{"s":"bc","c":"V4","e":524,"y":48.5},{"s":"bc","c":"V4","e":523.7,"y":51},{"s":"bc","c":"V4","e":523.49,"y":51.3},{"s":"bc","c":"V4","e":523.25,"y":50},{"s":"bc","c":"V4","e":522.99,"y":47.3},{"s":"bc","c":"V4","e":522.75,"y":43.5},{"s":"bc","c":"V4","e":522.52,"y":39},{"s":"bc","c":"V4","e":522.3,"y":34.3},{"s":"bc","c":"V4","e":522.07,"y":30},{"s":"bc","c":"V4","e":521.84,"y":26.5},{"s":"bc","c":"V4","e":521.6,"y":24.3},{"s":"bc","c":"V4","e":520.8,"y":22},{"s":"bc","c":"V4","e":520.08,"y":20.8},{"s":"bc","c":"V4","e":519.4,"y":19.6},{"s":"bc","c":"V4","e":518.7,"y":19},{"s":"bc","c":"V4","e":518.47,"y":20.8},{"s":"bc","c":"V4","e":518.24,"y":24},{"s":"bc","c":"V4","e":518.01,"y":29},{"s":"bc","c":"V4","e":517.78,"y":35.7},{"s":"bc","c":"V4","e":517.55,"y":44.5},{"s":"bc","c":"V4","e":517.32,"y":54},{"s":"bc","c":"V4","e":517.09,"y":64.3},{"s":"bc","c":"V4","e":516.86,"y":74},{"s":"bc","c":"V4","e":516.63,"y":81.3},{"s":"bc","c":"V4","e":516.4,"y":85.7},{"s":"bc","c":"V4","e":516.21,"y":87.3},{"s":"bc","c":"V4","e":516.07,"y":86.5},{"s":"bc","c":"V4","e":515.94,"y":84},{"s":"bc","c":"V4","e":515.7,"y":75.5},{"s":"bc","c":"V4","e":515.47,"y":64},{"s":"bc","c":"V4","e":515.24,"y":50.5},{"s":"bc","c":"V4","e":515.01,"y":37.3},{"s":"bc","c":"V4","e":514.78,"y":25.3},{"s":"bc","c":"V4","e":514.55,"y":15.7},{"s":"bc","c":"V4","e":514.32,"y":10},{"s":"bc","c":"V4","e":514.09,"y":7.3},{"s":"bc","c":"V4","e":513.63,"y":5.7},{"s":"bc","c":"V4","e":513.36,"y":4.7},
{"s":"c20","c":"V5","e":527,"y":264.8},{"s":"c20","c":"V5","e":526.6,"y":265.8},{"s":"c20","c":"V5","e":526.21,"y":267.8},{"s":"c20","c":"V5","e":525.75,"y":272.5},{"s":"c20","c":"V5","e":525.29,"y":278.5},{"s":"c20","c":"V5","e":524.95,"y":282},{"s":"c20","c":"V5","e":524.65,"y":283.3},{"s":"c20","c":"V5","e":524.4,"y":282.5},{"s":"c20","c":"V5","e":524.18,"y":280},{"s":"c20","c":"V5","e":523.91,"y":275.7},{"s":"c20","c":"V5","e":523.68,"y":272},{"s":"c20","c":"V5","e":523.45,"y":269},{"s":"c20","c":"V5","e":523.2,"y":266},{"s":"c20","c":"V5","e":522.99,"y":263.5},{"s":"c20","c":"V5","e":522.52,"y":260.2},{"s":"c20","c":"V5","e":522,"y":258.8},{"s":"c20","c":"V5","e":521.6,"y":257.8},{"s":"c20","c":"V5","e":520.8,"y":256.3},{"s":"c20","c":"V5","e":520,"y":255.2},{"s":"c20","c":"V5","e":519.4,"y":254.5},{"s":"c20","c":"V5","e":519.16,"y":255.5},{"s":"c20","c":"V5","e":519,"y":259},{"s":"c20","c":"V5","e":518.84,"y":267},{"s":"c20","c":"V5","e":518.61,"y":283},{"s":"c20","c":"V5","e":518.38,"y":300},{"s":"c20","c":"V5","e":518.15,"y":316},{"s":"c20","c":"V5","e":517.92,"y":328.5},{"s":"c20","c":"V5","e":517.73,"y":336.5},{"s":"c20","c":"V5","e":517.55,"y":339.7},{"s":"c20","c":"V5","e":517.42,"y":338.8},{"s":"c20","c":"V5","e":517.28,"y":334},{"s":"c20","c":"V5","e":517.14,"y":326.5},{"s":"c20","c":"V5","e":517,"y":317.3},{"s":"c20","c":"V5","e":516.86,"y":306.5},{"s":"c20","c":"V5","e":516.72,"y":295.7},{"s":"c20","c":"V5","e":516.58,"y":285.8},{"s":"c20","c":"V5","e":516.45,"y":277.3},{"s":"c20","c":"V5","e":516.31,"y":270},{"s":"c20","c":"V5","e":516.17,"y":264},{"s":"c20","c":"V5","e":516.03,"y":259.5},{"s":"c20","c":"V5","e":515.89,"y":255.7},{"s":"c20","c":"V5","e":515.71,"y":252},{"s":"c20","c":"V5","e":515.52,"y":249},{"s":"c20","c":"V5","e":515.15,"y":246.3},{"s":"c20","c":"V5","e":514.69,"y":245},{"s":"c20","c":"V5","e":514.23,"y":244},{"s":"c20","c":"V5","e":513.31,"y":242.3},
{"s":"c1","c":"V5","e":527,"y":153},{"s":"c1","c":"V5","e":526.6,"y":154},{"s":"c1","c":"V5","e":526.21,"y":155.7},{"s":"c1","c":"V5","e":525.75,"y":160},{"s":"c1","c":"V5","e":525.29,"y":165.7},{"s":"c1","c":"V5","e":525,"y":168.8},{"s":"c1","c":"V5","e":524.74,"y":170.7},{"s":"c1","c":"V5","e":524.45,"y":170},{"s":"c1","c":"V5","e":524.18,"y":166.7},{"s":"c1","c":"V5","e":523.8,"y":160},{"s":"c1","c":"V5","e":523.45,"y":154},{"s":"c1","c":"V5","e":523.2,"y":150.5},{"s":"c1","c":"V5","e":522.99,"y":148.5},{"s":"c1","c":"V5","e":522.52,"y":146.8},{"s":"c1","c":"V5","e":521.6,"y":144.8},{"s":"c1","c":"V5","e":520.8,"y":143.4},{"s":"c1","c":"V5","e":520,"y":142.4},{"s":"c1","c":"V5","e":519.5,"y":142.8},{"s":"c1","c":"V5","e":519.16,"y":146},{"s":"c1","c":"V5","e":518.93,"y":150},{"s":"c1","c":"V5","e":518.7,"y":157.3},{"s":"c1","c":"V5","e":518.47,"y":168.5},{"s":"c1","c":"V5","e":518.24,"y":180.7},{"s":"c1","c":"V5","e":518.01,"y":191},{"s":"c1","c":"V5","e":517.78,"y":199},{"s":"c1","c":"V5","e":517.6,"y":202.3},{"s":"c1","c":"V5","e":517.45,"y":203.3},{"s":"c1","c":"V5","e":517.3,"y":202.5},{"s":"c1","c":"V5","e":517.14,"y":200},{"s":"c1","c":"V5","e":516.9,"y":193},{"s":"c1","c":"V5","e":516.67,"y":184},{"s":"c1","c":"V5","e":516.44,"y":173.3},{"s":"c1","c":"V5","e":516.21,"y":162.3},{"s":"c1","c":"V5","e":515.98,"y":152.5},{"s":"c1","c":"V5","e":515.75,"y":144},{"s":"c1","c":"V5","e":515.52,"y":137.3},{"s":"c1","c":"V5","e":515.29,"y":132.3},{"s":"c1","c":"V5","e":515.06,"y":129},{"s":"c1","c":"V5","e":514.83,"y":126.7},{"s":"c1","c":"V5","e":514.09,"y":124.7},{"s":"c1","c":"V5","e":513.26,"y":124},
{"s":"bc","c":"V5","e":527,"y":31},{"s":"bc","c":"V5","e":526.21,"y":32.3},{"s":"bc","c":"V5","e":525.75,"y":34},{"s":"bc","c":"V5","e":525.29,"y":35.3},{"s":"bc","c":"V5","e":524.83,"y":35.7},{"s":"bc","c":"V5","e":524.6,"y":35},{"s":"bc","c":"V5","e":524.37,"y":33.3},{"s":"bc","c":"V5","e":523.9,"y":30.3},{"s":"bc","c":"V5","e":523.45,"y":28},{"s":"bc","c":"V5","e":522.99,"y":25.8},{"s":"bc","c":"V5","e":522.52,"y":24.2},{"s":"bc","c":"V5","e":521.6,"y":23.5},{"s":"bc","c":"V5","e":520.8,"y":22},{"s":"bc","c":"V5","e":520.08,"y":21.2},{"s":"bc","c":"V5","e":519.6,"y":21.8},{"s":"bc","c":"V5","e":519.16,"y":24},{"s":"bc","c":"V5","e":518.7,"y":28},{"s":"bc","c":"V5","e":518.24,"y":32.3},{"s":"bc","c":"V5","e":518,"y":34.3},{"s":"bc","c":"V5","e":517.78,"y":35.7},{"s":"bc","c":"V5","e":517.5,"y":36.7},{"s":"bc","c":"V5","e":517.27,"y":35.8},{"s":"bc","c":"V5","e":517.04,"y":33.3},{"s":"bc","c":"V5","e":516.72,"y":28},{"s":"bc","c":"V5","e":516.4,"y":22.3},{"s":"bc","c":"V5","e":516.17,"y":17.5},{"s":"bc","c":"V5","e":515.94,"y":13.3},{"s":"bc","c":"V5","e":515.7,"y":10.3},{"s":"bc","c":"V5","e":515.47,"y":8},{"s":"bc","c":"V5","e":515,"y":6.5},{"s":"bc","c":"V5","e":514.55,"y":5.7},{"s":"bc","c":"V5","e":513.36,"y":4.7},
{"s":"c20","c":"fit","e":527,"y":265.5},{"s":"c20","c":"fit","e":526.6,"y":266.8},{"s":"c20","c":"fit","e":526.21,"y":270},{"s":"c20","c":"fit","e":525.98,"y":273.3},{"s":"c20","c":"fit","e":525.75,"y":276.7},{"s":"c20","c":"fit","e":525.52,"y":279.3},{"s":"c20","c":"fit","e":525.29,"y":281.3},{"s":"c20","c":"fit","e":525,"y":283},{"s":"c20","c":"fit","e":524.74,"y":284},{"s":"c20","c":"fit","e":524.45,"y":284},{"s":"c20","c":"fit","e":524.18,"y":283.3},{"s":"c20","c":"fit","e":523.9,"y":281.5},{"s":"c20","c":"fit","e":523.63,"y":279},{"s":"c20","c":"fit","e":523.3,"y":275.8},{"s":"c20","c":"fit","e":522.99,"y":272.3},{"s":"c20","c":"fit","e":522.75,"y":269.5},{"s":"c20","c":"fit","e":522.52,"y":266.7},{"s":"c20","c":"fit","e":522.3,"y":263.8},{"s":"c20","c":"fit","e":522.07,"y":261.3},{"s":"c20","c":"fit","e":521.6,"y":258},{"s":"c20","c":"fit","e":521.14,"y":257},{"s":"c20","c":"fit","e":520.68,"y":256.7},{"s":"c20","c":"fit","e":520,"y":256},{"s":"c20","c":"fit","e":519.5,"y":257},{"s":"c20","c":"fit","e":519.16,"y":259.3},{"s":"c20","c":"fit","e":519,"y":262.5},{"s":"c20","c":"fit","e":518.84,"y":269},{"s":"c20","c":"fit","e":518.61,"y":284},{"s":"c20","c":"fit","e":518.38,"y":300.7},{"s":"c20","c":"fit","e":518.15,"y":315.5},{"s":"c20","c":"fit","e":517.92,"y":329},{"s":"c20","c":"fit","e":517.78,"y":335},{"s":"c20","c":"fit","e":517.64,"y":339},{"s":"c20","c":"fit","e":517.46,"y":340.7},{"s":"c20","c":"fit","e":517.32,"y":339.8},{"s":"c20","c":"fit","e":517.18,"y":337.3},{"s":"c20","c":"fit","e":517,"y":332},{"s":"c20","c":"fit","e":516.81,"y":325.7},{"s":"c20","c":"fit","e":516.63,"y":319},{"s":"c20","c":"fit","e":516.45,"y":312.3},{"s":"c20","c":"fit","e":516.26,"y":304.5},{"s":"c20","c":"fit","e":516.07,"y":295.7},{"s":"c20","c":"fit","e":515.89,"y":286},{"s":"c20","c":"fit","e":515.71,"y":275.7},{"s":"c20","c":"fit","e":515.52,"y":266.5},{"s":"c20","c":"fit","e":515.34,"y":259.7},{"s":"c20","c":"fit","e":515.15,"y":254.3},{"s":"c20","c":"fit","e":514.97,"y":250.7},{"s":"c20","c":"fit","e":514.6,"y":246.3},{"s":"c20","c":"fit","e":514.23,"y":244.3},{"s":"c20","c":"fit","e":513.8,"y":243},{"s":"c20","c":"fit","e":513.31,"y":242.3},
{"s":"c1","c":"fit","e":527,"y":154},{"s":"c1","c":"fit","e":526.6,"y":155},{"s":"c1","c":"fit","e":526.21,"y":156.7},{"s":"c1","c":"fit","e":525.75,"y":161},{"s":"c1","c":"fit","e":525.29,"y":167.3},{"s":"c1","c":"fit","e":524.83,"y":173.5},{"s":"c1","c":"fit","e":524.37,"y":178},{"s":"c1","c":"fit","e":524,"y":178.5},{"s":"c1","c":"fit","e":523.63,"y":177.3},{"s":"c1","c":"fit","e":523.3,"y":173.5},{"s":"c1","c":"fit","e":522.99,"y":167.3},{"s":"c1","c":"fit","e":522.75,"y":162.5},{"s":"c1","c":"fit","e":522.52,"y":158},{"s":"c1","c":"fit","e":522.3,"y":154},{"s":"c1","c":"fit","e":522.07,"y":150.7},{"s":"c1","c":"fit","e":521.6,"y":146.7},{"s":"c1","c":"fit","e":521.14,"y":145},{"s":"c1","c":"fit","e":520.68,"y":144},{"s":"c1","c":"fit","e":520,"y":143.3},{"s":"c1","c":"fit","e":519.6,"y":144.3},{"s":"c1","c":"fit","e":519.16,"y":147.3},{"s":"c1","c":"fit","e":518.93,"y":152},{"s":"c1","c":"fit","e":518.7,"y":159},{"s":"c1","c":"fit","e":518.47,"y":170},{"s":"c1","c":"fit","e":518.24,"y":182.3},{"s":"c1","c":"fit","e":518.01,"y":193.5},{"s":"c1","c":"fit","e":517.78,"y":204},{"s":"c1","c":"fit","e":517.55,"y":212.3},{"s":"c1","c":"fit","e":517.32,"y":219},{"s":"c1","c":"fit","e":517.09,"y":223.3},{"s":"c1","c":"fit","e":516.86,"y":225.7},{"s":"c1","c":"fit","e":516.63,"y":226.2},{"s":"c1","c":"fit","e":516.4,"y":224.7},{"s":"c1","c":"fit","e":516.26,"y":221.5},{"s":"c1","c":"fit","e":516.12,"y":217.3},{"s":"c1","c":"fit","e":515.94,"y":208.5},{"s":"c1","c":"fit","e":515.75,"y":197.3},{"s":"c1","c":"fit","e":515.57,"y":186},{"s":"c1","c":"fit","e":515.38,"y":174},{"s":"c1","c":"fit","e":515.2,"y":162},{"s":"c1","c":"fit","e":515.01,"y":150.7},{"s":"c1","c":"fit","e":514.83,"y":141.5},{"s":"c1","c":"fit","e":514.64,"y":134},{"s":"c1","c":"fit","e":514.42,"y":129.5},{"s":"c1","c":"fit","e":514.19,"y":126.7},{"s":"c1","c":"fit","e":513.9,"y":125.3},{"s":"c1","c":"fit","e":513.63,"y":124.7},{"s":"c1","c":"fit","e":513.26,"y":124},
{"s":"bc","c":"fit","e":527,"y":31.5},{"s":"bc","c":"fit","e":526.6,"y":32},{"s":"bc","c":"fit","e":526.21,"y":33},{"s":"bc","c":"fit","e":525.75,"y":35},{"s":"bc","c":"fit","e":525.29,"y":38.5},{"s":"bc","c":"fit","e":524.83,"y":44},{"s":"bc","c":"fit","e":524.37,"y":50.7},{"s":"bc","c":"fit","e":523.9,"y":55.5},{"s":"bc","c":"fit","e":523.45,"y":57.5},{"s":"bc","c":"fit","e":523.2,"y":57.2},{"s":"bc","c":"fit","e":522.99,"y":55.7},{"s":"bc","c":"fit","e":522.75,"y":53},{"s":"bc","c":"fit","e":522.52,"y":49.7},{"s":"bc","c":"fit","e":522.3,"y":45.3},{"s":"bc","c":"fit","e":522.07,"y":40.7},{"s":"bc","c":"fit","e":521.84,"y":36.3},{"s":"bc","c":"fit","e":521.6,"y":32.5},{"s":"bc","c":"fit","e":521.14,"y":28},{"s":"bc","c":"fit","e":520.68,"y":25},{"s":"bc","c":"fit","e":520,"y":22.3},{"s":"bc","c":"fit","e":519.6,"y":22},{"s":"bc","c":"fit","e":519.16,"y":23.3},{"s":"bc","c":"fit","e":518.7,"y":27.3},{"s":"bc","c":"fit","e":518.47,"y":31},{"s":"bc","c":"fit","e":518.24,"y":35.7},{"s":"bc","c":"fit","e":518.01,"y":42.5},{"s":"bc","c":"fit","e":517.78,"y":50.7},{"s":"bc","c":"fit","e":517.55,"y":60.5},{"s":"bc","c":"fit","e":517.32,"y":70.7},{"s":"bc","c":"fit","e":517.09,"y":80.3},{"s":"bc","c":"fit","e":516.86,"y":89},{"s":"bc","c":"fit","e":516.63,"y":96.2},{"s":"bc","c":"fit","e":516.4,"y":102},{"s":"bc","c":"fit","e":516.17,"y":105.8},{"s":"bc","c":"fit","e":515.94,"y":107.3},{"s":"bc","c":"fit","e":515.8,"y":106.5},{"s":"bc","c":"fit","e":515.66,"y":104},{"s":"bc","c":"fit","e":515.52,"y":98.5},{"s":"bc","c":"fit","e":515.38,"y":90.7},{"s":"bc","c":"fit","e":515.24,"y":81.3},{"s":"bc","c":"fit","e":515.11,"y":70.7},{"s":"bc","c":"fit","e":514.97,"y":59},{"s":"bc","c":"fit","e":514.83,"y":47.3},{"s":"bc","c":"fit","e":514.69,"y":36},{"s":"bc","c":"fit","e":514.55,"y":25.7},{"s":"bc","c":"fit","e":514.37,"y":17},{"s":"bc","c":"fit","e":514.19,"y":12.3},{"s":"bc","c":"fit","e":514,"y":9.5},{"s":"bc","c":"fit","e":513.82,"y":7.3},{"s":"bc","c":"fit","e":513.36,"y":4.7}
]
},
"vconcat":[
{
"width":499,"height":367,
"title":{"text":"(a)","dx":-85},
"layer":[
{"data":{"name":"ptsA"},"mark":{"type":"point","shape":"circle","size":50,"strokeWidth":1.1,"color":"#ef5a5a","opacity":1},
"encoding":{"x":{"field":"e","type":"quantitative","scale":{"domain":[513.06,527],"reverse":true,"nice":false,"zero":false},"axis":{"values":[514,515,516,517,518,519,520,521,522,523,524,525,526,527],"labelExpr":"datum.value % 2 == 0 ? datum.label : ''","tickSize":{"condition":{"test":"datum.value % 2 == 0","value":6},"value":4},"title":"Binding Energy (eV)","labelFlush":false,"labelOverlap":false}},
"y":{"field":"ht","type":"quantitative","scale":{"domain":[0,367],"nice":false,"zero":false},"axis":{"title":"Counts","labels":false,"ticks":false,"domain":false}}}},
{"data":{"name":"ptsA"},"mark":{"type":"point","shape":"circle","size":50,"strokeWidth":1.1,"color":"#4d4d4d","opacity":1},
"encoding":{"x":{"field":"e","type":"quantitative"},"y":{"field":"lt","type":"quantitative"}}},
{"data":{"name":"linA"},"mark":{"type":"line","interpolate":"monotone","strokeWidth":1.5,"clip":true},
"encoding":{"x":{"field":"e","type":"quantitative"},"y":{"field":"y","type":"quantitative"},
"color":{"field":"c","type":"nominal","scale":{"domain":["bg","V3","V4","V5","fit"],"range":["#b8b8b8","#1f9a8c","#e39b2f","#ff33ff","#3a3a3a"]},"legend":null},
"detail":{"field":"s","type":"nominal"}}},
{"data":{"values":[{}]},"mark":{"type":"point","shape":"circle","size":42,"strokeWidth":1.1,"color":"#ef5a5a"},"encoding":{"x":{"datum":526.4},"y":{"datum":346}}},
{"data":{"values":[{}]},"mark":{"type":"text","text":"HT-VO","fontSize":21},"encoding":{"x":{"datum":525.84},"y":{"datum":339.3}}},
{"data":{"values":[{}]},"mark":{"type":"text","text":"X","fontSize":16},"encoding":{"x":{"datum":524.0},"y":{"datum":334.3}}},
{"data":{"values":[{}]},"mark":{"type":"text","text":"nanotube","fontSize":21},"encoding":{"x":{"datum":523.3},"y":{"datum":339.3}}},
{"data":{"values":[{}]},"mark":{"type":"point","shape":"circle","size":42,"strokeWidth":1.1,"color":"#4d4d4d"},"encoding":{"x":{"datum":526.4},"y":{"datum":310}}},
{"data":{"values":[{}]},"mark":{"type":"text","text":"LT-VO","fontSize":21},"encoding":{"x":{"datum":525.84},"y":{"datum":303.3}}},
{"data":{"values":[{}]},"mark":{"type":"text","text":"X","fontSize":16},"encoding":{"x":{"datum":524.07},"y":{"datum":298.3}}},
{"data":{"values":[{}]},"mark":{"type":"text","text":"nanotube","fontSize":21},"encoding":{"x":{"datum":523.38},"y":{"datum":303.3}}},
{"data":{"values":[{}]},"mark":{"type":"text","text":"V 2p","fontSize":19,"fontWeight":"normal"},"encoding":{"x":{"datum":524.18},"y":{"datum":259.3}}},
{"data":{"values":[{}]},"mark":{"type":"text","text":"1/2","fontSize":11,"fontWeight":"normal"},"encoding":{"x":{"datum":523.04},"y":{"datum":252.7}}},
{"data":{"values":[{}]},"mark":{"type":"text","text":"V 2p","fontSize":19,"fontWeight":"normal"},"encoding":{"x":{"datum":516.62},"y":{"datum":311}}},
{"data":{"values":[{}]},"mark":{"type":"text","text":"3/2","fontSize":11,"fontWeight":"normal"},"encoding":{"x":{"datum":515.51},"y":{"datum":304.3}}},
{"data":{"values":[{}]},"mark":{"type":"rule","color":"#ff33ff","strokeWidth":1.6},"encoding":{"x":{"datum":526.73},"x2":{"datum":525.33},"y":{"datum":186.7}}},
{"data":{"values":[{}]},"mark":{"type":"rule","color":"#e39b2f","strokeWidth":1.6},"encoding":{"x":{"datum":526.73},"x2":{"datum":525.33},"y":{"datum":152.7}}},
{"data":{"values":[{}]},"mark":{"type":"rule","color":"#1f9a8c","strokeWidth":1.6},"encoding":{"x":{"datum":526.73},"x2":{"datum":525.33},"y":{"datum":117.7}}},
{"data":{"values":[{}]},"mark":{"type":"text","text":"V","fontSize":22},"encoding":{"x":{"datum":525.19},"y":{"datum":177.7}}},
{"data":{"values":[{}]},"mark":{"type":"text","text":"5+","fontSize":12},"encoding":{"x":{"datum":524.74},"y":{"datum":188.3}}},
{"data":{"values":[{}]},"mark":{"type":"text","text":"V","fontSize":22},"encoding":{"x":{"datum":525.19},"y":{"datum":144.3}}},
{"data":{"values":[{}]},"mark":{"type":"text","text":"4+","fontSize":12},"encoding":{"x":{"datum":524.74},"y":{"datum":155}}},
{"data":{"values":[{}]},"mark":{"type":"text","text":"V","fontSize":22},"encoding":{"x":{"datum":525.19},"y":{"datum":109.3}}},
{"data":{"values":[{}]},"mark":{"type":"text","text":"3+","fontSize":12},"encoding":{"x":{"datum":524.74},"y":{"datum":121}}}
]
},
{
"width":499,"height":355,
"title":{"text":"(b)","dx":-85},
"layer":[
{"data":{"name":"ptsB"},"mark":{"type":"point","shape":"circle","size":50,"strokeWidth":1.1,"color":"#a05ad4","opacity":1,"clip":true},
"encoding":{"x":{"field":"e","type":"quantitative","scale":{"domain":[513.06,526.86],"reverse":true,"nice":false,"zero":false},"axis":{"values":[514,515,516,517,518,519,520,521,522,523,524,525,526],"labelExpr":"datum.value % 2 == 0 ? datum.label : ''","tickSize":{"condition":{"test":"datum.value % 2 == 0","value":6},"value":4},"title":"Binding Energy (eV)","titlePadding":6,"labelFlush":false,"labelOverlap":false}},
"y":{"field":"c20","type":"quantitative","scale":{"domain":[0,355],"nice":false,"zero":false},"axis":{"title":"Counts","labels":false,"ticks":false,"domain":false}}}},
{"data":{"name":"ptsB"},"mark":{"type":"point","shape":"circle","size":50,"strokeWidth":1.1,"color":"#5a5af2","opacity":1,"clip":true},
"encoding":{"x":{"field":"e","type":"quantitative"},"y":{"field":"c1","type":"quantitative"}}},
{"data":{"name":"ptsB"},"mark":{"type":"point","shape":"circle","size":50,"strokeWidth":1.1,"color":"#ef5a5a","opacity":1,"clip":true},
"encoding":{"x":{"field":"e","type":"quantitative"},"y":{"field":"bc","type":"quantitative"}}},
{"data":{"name":"linB"},"mark":{"type":"line","interpolate":"monotone","strokeWidth":1.5,"clip":true},
"encoding":{"x":{"field":"e","type":"quantitative"},"y":{"field":"y","type":"quantitative"},
"color":{"field":"c","type":"nominal","scale":{"domain":["bg","V3","V4","V5","fit"],"range":["#b8b8b8","#1f9a8c","#e39b2f","#ff33ff","#3a3a3a"]},"legend":null},
"detail":{"field":"s","type":"nominal"}}},
{"data":{"values":[{}]},"mark":{"type":"text","text":"HT-VO","fontSize":21},"encoding":{"x":{"datum":526.72},"y":{"datum":327.3}}},
{"data":{"values":[{}]},"mark":{"type":"text","text":"X","fontSize":16},"encoding":{"x":{"datum":524.9},"y":{"datum":320.7}}},
{"data":{"values":[{}]},"mark":{"type":"text","text":"nanotube","fontSize":21},"encoding":{"x":{"datum":524.4},"y":{"datum":327.3}}},
{"data":{"values":[{}]},"mark":{"type":"point","shape":"circle","size":46,"strokeWidth":1.1,"color":"#a05ad4"},"encoding":{"x":{"datum":526.3},"y":{"datum":304}}},
{"data":{"values":[{}]},"mark":{"type":"text","text":"After 20 cycles","fontSize":19.5},"encoding":{"x":{"datum":525.75},"y":{"datum":299}}},
{"data":{"values":[{}]},"mark":{"type":"point","shape":"circle","size":46,"strokeWidth":1.1,"color":"#5a5af2"},"encoding":{"x":{"datum":526.3},"y":{"datum":199}}},
{"data":{"values":[{}]},"mark":{"type":"text","text":"After 1st cycle","fontSize":19.5},"encoding":{"x":{"datum":525.75},"y":{"datum":193.3}}},
{"data":{"values":[{}]},"mark":{"type":"point","shape":"circle","size":46,"strokeWidth":1.1,"color":"#ef5a5a"},"encoding":{"x":{"datum":526.3},"y":{"datum":79}}},
{"data":{"values":[{}]},"mark":{"type":"text","text":"Before cycling","fontSize":19.5},"encoding":{"x":{"datum":525.75},"y":{"datum":72.3}}}
]
}
]
}
